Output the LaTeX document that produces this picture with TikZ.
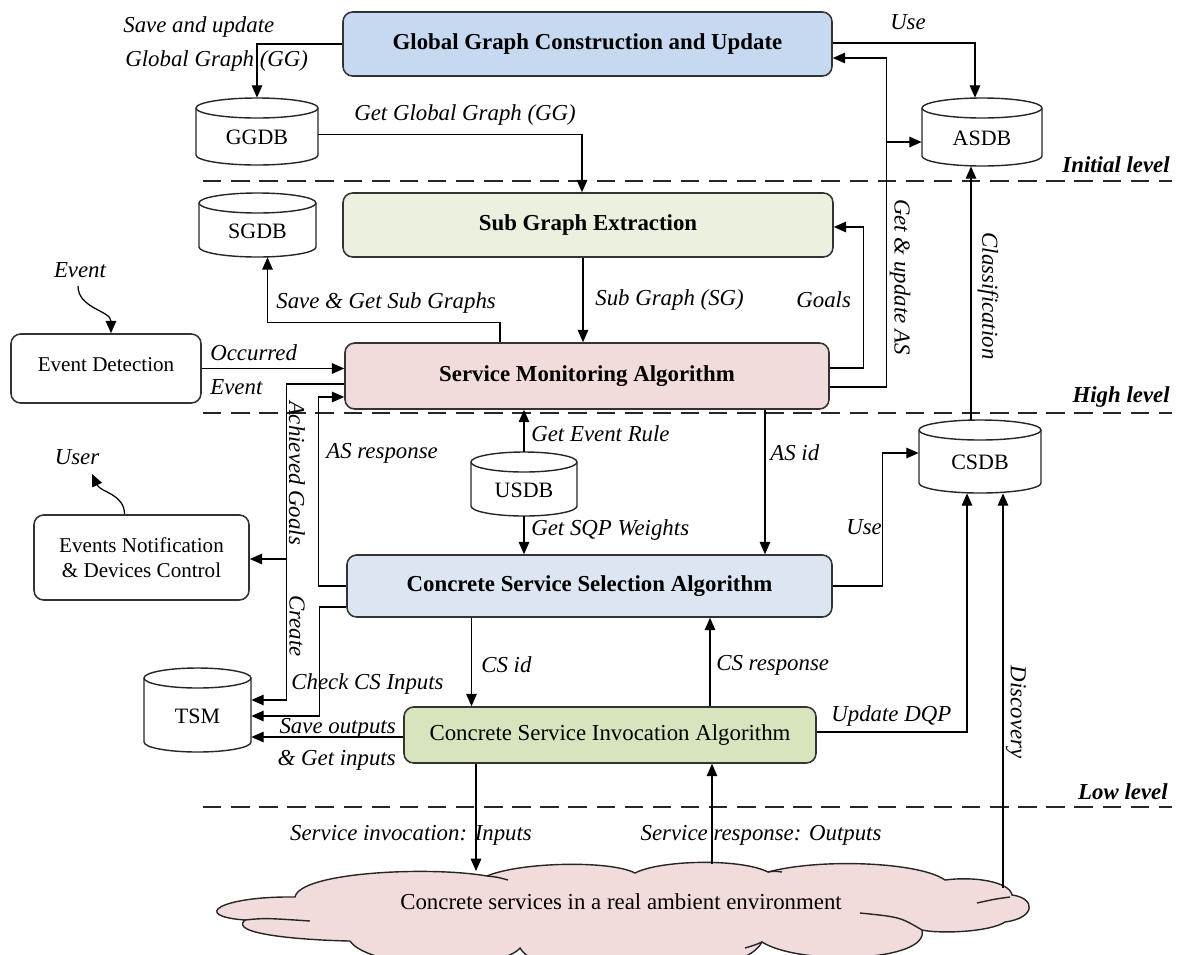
\documentclass[tikz,border=0pt]{standalone}
\usepackage{fontspec}
\setmainfont{Liberation Serif}
\usetikzlibrary{arrows.meta,calc,fit}
\definecolor{cGG}{RGB}{198,217,241}
\definecolor{cSG}{RGB}{235,241,222}
\definecolor{cSM}{RGB}{242,220,219}
\definecolor{cCS}{RGB}{220,230,242}
\definecolor{cCI}{RGB}{215,228,189}
\definecolor{cCL}{RGB}{242,220,219}
\newcommand\dbnode[6]{%
  \pgfmathsetmacro\crx{(#4-#2)/2}%
  \filldraw[cylsty] (#2,{-(#3+10)}) -- (#2,{-(#5-10)}) arc[start angle=180,end angle=360,x radius=\crx,y radius=10] -- (#4,{-(#3+10)}) arc[start angle=0,end angle=180,x radius=\crx,y radius=10] -- cycle;
  \draw[cylsty] (#2,{-(#3+10)}) arc[start angle=180,end angle=360,x radius=\crx,y radius=10];
  \node[fit={(#2,-#3) (#4,-#5)},inner sep=0pt] (#1) {};
  \node[dbtext] (#1txt) at ($(#1.center)+(0,-6)$) {#6};
}
\begin{document}
\begin{tikzpicture}[x=0.02cm,y=0.02cm,
  box/.style={draw=black!80, line width=0.9pt, rounded corners=5.5pt, inner sep=0pt},
  bt/.style={font=\fontsize{13}{15}\selectfont\bfseries},
  nt13/.style={font=\fontsize{13}{15}\selectfont},
  nt12/.style={font=\fontsize{12}{14.5}\selectfont},
  lab/.style={font=\fontsize{13}{15}\selectfont\itshape, inner sep=0pt},
  lvl/.style={font=\fontsize{13}{15}\selectfont\bfseries\itshape, inner sep=0pt},
  arr/.style={line width=0.7pt, -{Triangle[length=7pt,width=6pt]}},
  cylsty/.style={draw=black!85, line width=0.8pt, fill=white},
  dbtext/.style={font=\fontsize{12.5}{14}\selectfont, inner sep=0pt},
  levelline/.style={line width=1.2pt, dash pattern=on 10.5pt off 5.5pt, black!85},
  cloudsty/.style={draw=black!85, line width=0.8pt, fill=cCL}
]
\useasboundingbox (0,0) rectangle (1183,-954);

% level separators
\draw[levelline] (203,-181) -- (1172,-181);
\draw[levelline] (203,-413) -- (1172,-413);
\draw[levelline] (203,-807) -- (1172,-807);
\node[lvl, anchor=east] (lv1) at (1170,-165) {Initial level};
\node[lvl, anchor=east] (lv2) at (1170,-397) {High level};
\node[lvl, anchor=east] (lv3) at (1168,-792) {Low level};

% boxes
\node[box, fill=cGG, bt, minimum width=489*0.02cm, minimum height=64*0.02cm] (GGCU) at (587.5,-44) {Global Graph Construction and Update};
\node[box, fill=cSG, bt, minimum width=490*0.02cm, minimum height=64*0.02cm] (SGE) at (588,-225) {Sub Graph Extraction};
\node[box, fill=cSM, bt, minimum width=484*0.02cm, minimum height=66*0.02cm] (SMA) at (587,-376) {Service Monitoring Algorithm};
\node[box, fill=cCS, bt, minimum width=485*0.02cm, minimum height=62*0.02cm] (CSSA) at (589.5,-586) {Concrete Service Selection Algorithm};
\node[box, fill=cCI, nt13, minimum width=412*0.02cm, minimum height=56*0.02cm] (CSIA) at (610,-735) {Concrete Service Invocation Algorithm};
\node[box, fill=white, nt12, minimum width=190*0.02cm, minimum height=69*0.02cm] (ED) at (106,-368.5) {\raisebox{5pt}{Event Detection}};
\node[box, fill=white, nt12, align=center, minimum width=215*0.02cm, minimum height=85*0.02cm] (EN) at (141.5,-557.5) {Events Notification\\\& Devices Control};

% databases
\dbnode{GGDB}{196}{98}{318}{165}{GGDB}
\dbnode{ASDB}{922}{98}{1042}{166}{ASDB}
\dbnode{SGDB}{199}{193}{316}{257}{SGDB}
\dbnode{USDB}{471}{452}{577}{516}{USDB}
\dbnode{CSDB}{919}{420}{1041}{493}{CSDB}
\dbnode{TSM}{144}{668}{251}{752}{TSM}

% cloud
\filldraw[cloudsty] (295,-897)
  .. controls (300,-872) and (430,-866) .. (487,-876)
  .. controls (520,-862) and (610,-860) .. (635,-873)
  .. controls (660,-860) and (740,-858) .. (768,-872)
  .. controls (820,-858) and (920,-862) .. (945,-880)
  .. controls (975,-876) and (1010,-882) .. (1012,-895)
  .. controls (1036,-898) and (1036,-918) .. (1005,-922)
  .. controls (990,-932) and (940,-934) .. (922,-930)
  .. controls (930,-962) and (800,-966) .. (762,-942)
  .. controls (740,-985) and (540,-985) .. (520,-948)
  .. controls (500,-972) and (370,-970) .. (350,-941)
  .. controls (300,-940) and (228,-934) .. (245,-920)
  .. controls (190,-916) and (220,-896) .. (295,-897) -- cycle;
\draw[line width=0.8pt, black!85] (245,-920) .. controls (265,-918) .. (310,-921);
\draw[line width=0.8pt, black!85] (487,-876) .. controls (497,-877) .. (508,-880);
\draw[line width=0.8pt, black!85] (768,-872) .. controls (774,-871) .. (782,-872);
\draw[line width=0.8pt, black!85] (977,-903) .. controls (995,-899) .. (1010,-897);
\draw[line width=0.8pt, black!85] (860,-913) .. controls (900,-917) .. (922,-930);
\draw[line width=0.8pt, black!85] (745,-948) .. controls (755,-945) .. (762,-942);
\node[nt13] (CLOUD) at (621,-902) {Concrete services in a real ambient environment};
\coordinate (cl1) at (476,-871);
\coordinate (cl2) at (712,-864);
\coordinate (cl3) at (1003,-888);

% external labels
\node[lab] (evt) at (80,-270) {Event};
\node[lab] (usr) at (77,-457) {User};
\draw[arr] ($(evt.south)+(-2,-8)$) to[out=-90,in=90] ($(ED.north)+(5,0)$);
\draw[arr] ($(EN.north)+(-17,0)$) to[out=90,in=-65] ($(usr.south)+(15,-9)$);

% connectors
\draw[arr] (GGCU.west) -| (GGDB.north);
\draw[arr] ($(GGDB.east)+(0,-3)$) -| ($(SGE.north)+(-6,0)$);
\draw[arr] ($(GGCU.east)+(0,1)$) -| ($(ASDB.north)+(-7,0)$);
\draw[arr] ($(SMA.east)+(0,-11)$) -| ($(GGCU.east)+(54,-14)$) -- ($(GGCU.east)+(0,-14)$);
\draw[arr] ($(ASDB.west)+(-36,-10)$) -- ($(ASDB.west)+(0,-10)$);
\draw[arr] ($(SMA.east)+(0,8)$) -| ($(SGE.east)+(30,-2)$) -- ($(SGE.east)+(0,-2)$);
\draw[arr] ($(CSDB.north)+(-9,0)$) coordinate (c1) -- (c1 |- ASDB.south);
\draw[arr] ($(SGE.south)+(-5,0)$) coordinate (s1) -- (s1 |- SMA.north);
\draw[arr] ($(SMA.north)+(-87,0)$) -- ++(0,20) -| ($(SGDB.south)+(10,0)$);
\draw[arr] (ED.east) -- (ED.east -| SMA.west);
\draw[arr] ($(SMA.west)+(0,-8)$) -| ($(TSM.east)+(35,10)$) -- ($(TSM.east)+(0,10)$);
\draw[arr] ($(EN.east)+(37,-1.5)$) -- ($(EN.east)+(0,-1.5)$);
\draw[arr] (CSSA.west) -| ($(SMA.west)+(-26,-21)$) -- ($(SMA.west)+(0,-21)$);
\draw[arr] ($(CSSA.west)+(0,-21)$) -| ($(TSM.east)+(68,-6)$) -- ($(TSM.east)+(0,-6)$);
\draw[arr] ($(CSIA.west)+(0,-2)$) coordinate (s2) -- (s2 -| TSM.east);
\draw[arr] (USDB.north) -- (USDB.north |- SMA.south);
\draw[arr] (USDB.south) -- (USDB.south |- CSSA.north);
\draw[arr] ($(SMA.south)+(178,0)$) coordinate (a1) -- (a1 |- CSSA.north);
\draw[arr] (CSSA.east) -| ($(CSDB.west)+(-36,3.5)$) -- ($(CSDB.west)+(0,3.5)$);
\draw[arr] ($(CSSA.south)+(-118,0)$) coordinate (c2) -- (c2 |- CSIA.north);
\draw[arr] ($(CSIA.north)+(100,0)$) coordinate (c3) -- (c3 |- CSSA.south);
\draw[arr] ($(CSIA.east)+(0,3)$) -| ($(CSDB.south)+(-13,0)$);
\draw[arr] (cl3) -- (cl3 |- CSDB.south);
\draw[arr] ($(CSIA.south)+(-134,0)$) coordinate (c4) -- (c4 |- cl1);
\draw[arr] (cl2) -- (cl2 |- CSIA.south);

% connector labels
\node[lab, anchor=west] (l1) at (123,-27) {Save and update};
\node[lab, anchor=west] (l2) at (125,-61) {Global Graph (GG)};
\node[lab, anchor=west] (l3) at (354,-115) {Get Global Graph (GG)};
\node[lab] (l4) at (908,-22) {Use};
\node[lab, anchor=west] (l5) at (276,-303) {Save \& Get Sub Graphs};
\node[lab, anchor=west] (l6) at (595,-300) {Sub Graph (SG)};
\node[lab, anchor=west] (l7) at (796,-300) {Goals};
\node[lab, anchor=west] (l8) at (210,-353) {Occurred};
\node[lab, anchor=west] (l9) at (210,-387) {Event};
\node[lab, rotate=-90] (l10) at (900,-277) {Get \& update AS};
\node[lab, rotate=-90] (l11) at (988,-296) {Classification};
\node[lab, anchor=west] (l12) at (531,-434) {Get Event Rule};
\node[lab, anchor=west] (l13) at (326,-453) {AS response};
\node[lab, anchor=west] (l14) at (770,-453) {AS id};
\node[lab, anchor=west] (l15) at (531,-530) {Get SQP Weights};
\node[lab, anchor=west] (l16) at (846,-527) {Use};
\node[lab, rotate=-90] (l17) at (297,-473) {Achieved Goals};
\node[lab, rotate=-90] (l18) at (297,-626) {Create};
\node[lab, anchor=west] (l19) at (291,-684) {Check CS Inputs};
\node[lab, anchor=west] (l20) at (481,-665) {CS id};
\node[lab, anchor=west] (l21) at (716,-665) {CS response};
\node[lab, anchor=east] (l22) at (396,-728) {Save outputs};
\node[lab, anchor=east] (l23) at (396,-760) {\& Get inputs};
\node[lab, anchor=west] (l24) at (831,-716) {Update DQP};
\node[lab, rotate=-90] (l25) at (1016,-712) {Discovery};
\node[lab] (l26) at (411,-835) {Service invocation: Inputs};
\node[lab] (l27) at (761,-835) {Service response: Outputs};
\end{tikzpicture}
\end{document}
